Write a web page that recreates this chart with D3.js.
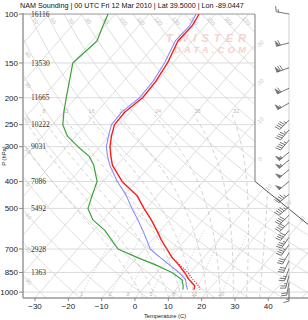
<!DOCTYPE html>
<html>
<head>
<meta charset="utf-8">
<script src="https://cdn.jsdelivr.net/npm/d3@7"></script>
<style>
  body { margin: 0; background: #fff; }
  svg { display: block; }
</style>
</head>
<body>
<svg id="chart" width="308" height="320"></svg>
<script>
// Sounding data (pressure hPa, temps C)
const levels = [100, 110, 125, 150, 175, 200, 225, 250, 275, 300, 325, 350, 400, 450, 500, 550, 600, 650, 700, 750, 800, 850, 900, 950, 980];
const temperature = [-54.9, -53.9, -54.2, -51.6, -50.3, -50.0, -51.6, -51.4, -49.3, -47.0, -44.2, -41.4, -34.3, -26.1, -20.7, -15.5, -11.1, -7.2, -3.2, 0.5, 4.6, 8.2, 11.3, 14.8, 15.5];
const dewpoint = [-82.2, -80.7, -78.5, -80.0, -76.2, -72.9, -69.9, -66.9, -62.5, -56.6, -50.7, -47.0, -41.8, -39.6, -37.5, -33.0, -26.7, -22.1, -17.9, -10.0, -2.2, 4.4, 9.2, 11.3, 12.2];
const wetBulb = [-55.8, -54.7, -55.0, -52.5, -51.1, -50.9, -52.5, -52.3, -50.2, -48.1, -45.2, -42.2, -35.7, -29.3, -24.3, -19.5, -15.3, -11.6, -8.2, -3.1, 1.9, 6.5, 10.3, 12.3, 13.6];
const virtLevels = [750, 800, 850, 900, 950, 980];
const virtTemp = [0.5, 5.0, 9.2, 12.5, 16.0, 17.3];

// Winds
const windP = [100, 127, 156, 185, 209, 241, 261, 284, 314, 335, 363, 400, 445, 494, 529, 561, 600, 636, 675, 722, 771, 823, 872, 923, 967];
const windDir = [280, 255, 250, 245, 240, 225, 220, 220, 230, 230, 230, 230, 230, 230, 225, 225, 220, 215, 215, 210, 205, 200, 195, 190, 180];
const windKt = [15, 60, 70, 60, 55, 45, 45, 45, 55, 55, 50, 50, 45, 45, 40, 40, 40, 35, 35, 30, 30, 25, 25, 20, 15];

// Axis labels
const pTicks = [100, 150, 200, 250, 300, 400, 500, 700, 850, 1000];
const tTicks = [-30, -20, -10, 0, 10, 20, 30, 40];
const heightP = [100, 150, 200, 250, 300, 400, 500, 700, 850];
const heightM = [16116, 13530, 11665, 10222, 9031, 7086, 5492, 2928, 1363];

// Background grid values
const isotherms = d3.range(-130, 60, 10);
const isothermLabels = [-30, -20, -10, 0, 10, 20, 30];
const dryThetas = d3.range(-40, 180, 10);
const moistThetas = [0, 4, 8, 12, 16, 20, 24, 28, 32, 36];
const mixRatios = [1, 2, 3, 5, 8, 12, 20];

const title = "NAM Sounding | 00 UTC Fri 12 Mar 2010 | Lat 39.5000 | Lon -89.0447";

const svg = d3.select("#chart");
const plotLeft = 23, plotTop = 14, plotRight = 255, plotBottom = 298;
const SKEW = 0.87;
const notchSlope = 0.811;

const y = d3.scaleLog().domain([100, 1050]).range([plotTop, plotBottom]);
const x = d3.scaleLinear().domain([-30, 40]).range([35, 268.3]);
const skewX = (t, p) => x(t) + SKEW * (plotBottom - y(p));

// plot outline: notch on right side below 400 hPa
const notchY = y(400);
const outline = [[plotLeft, plotTop], [plotRight, plotTop], [plotRight, notchY],
  [345, notchY + 90 * notchSlope], [345, plotBottom], [plotLeft, plotBottom]];

svg.append("defs").append("clipPath").attr("id", "plotClip")
  .append("path").attr("d", "M" + outline.join("L") + "Z");

const grid = svg.append("g").attr("clip-path", "url(#plotClip)");
const line = d3.line().x(d => skewX(d[1], d[0])).y(d => y(d[0]));

// isobars
grid.selectAll(".isobar").data(pTicks).join("line")
  .attr("x1", plotLeft).attr("x2", 320)
  .attr("y1", d => y(d)).attr("y2", d => y(d))
  .attr("stroke", "#dcdcdc").attr("stroke-width", 1);

// isotherms
grid.selectAll(".isotherm").data(isotherms).join("path")
  .attr("d", t => line([[1050, t], [100, t]]))
  .attr("fill", "none").attr("stroke", "#d6d6d6").attr("stroke-width", 0.8);

// dry adiabats
const pSteps = d3.range(100, 1051, 10);
function dryLine(th) {
  return pSteps.map(p => [p, (th + 273.15) * Math.pow(p / 1000, 0.2857) - 273.15]);
}
grid.selectAll(".dry").data(dryThetas).join("path")
  .attr("d", th => line(dryLine(th)))
  .attr("fill", "none").attr("stroke", "#d6d6d6").attr("stroke-width", 0.8);

// moist adiabats
function moistLine(thw) {
  const Rd = 287.04, Cp = 1005.7, Lv = 2.501e6, eps = 0.622;
  const rate = (T, p) => {
    const es = 6.112 * Math.exp(17.67 * (T - 273.15) / (T - 29.65));
    const rs = eps * es / (p - es);
    return (Rd * T + Lv * rs) / (Cp + (Lv * Lv * rs * eps) / (Rd * T * T)) / p;
  };
  let T = thw + 273.15;
  for (let pp = 1000; pp < 1050; pp += 5) {
    const k1 = rate(T, pp);
    const k2 = rate(T + k1 * 5, pp + 5);
    T += 5 * (k1 + k2) / 2;
  }
  const pts = [];
  let p = 1050;
  const dp = -5;
  while (p >= 230) {
    pts.push([p, T - 273.15]);
    const k1 = rate(T, p);
    const k2 = rate(T + k1 * dp, p + dp);
    T += dp * (k1 + k2) / 2;
    p += dp;
  }
  return pts;
}
const moistData = moistThetas.map(th => ({ th, pts: moistLine(th) }));
grid.selectAll(".moist").data(moistData).join("path")
  .attr("d", d => line(d.pts))
  .attr("fill", "none").attr("stroke", "#bdbdbd").attr("stroke-width", 0.7)
  .attr("stroke-dasharray", "4,3");

// mixing ratio lines
function mixTd(w, p) {
  const e = (w / 1000) * p / (0.622 + w / 1000);
  const l = Math.log(e / 6.112);
  return 243.5 * l / (17.67 - l);
}
function mixLine(w) {
  return d3.range(600, 1051, 10).map(p => [p, mixTd(w, p)]);
}
grid.selectAll(".mix").data(mixRatios).join("path")
  .attr("d", w => line(mixLine(w)))
  .attr("fill", "none").attr("stroke", "#bdbdbd").attr("stroke-width", 0.8)
  .attr("stroke-dasharray", "1,2");

// grid labels
const glabel = svg.append("g").attr("font-family", "Liberation Sans, Arial, sans-serif")
  .attr("font-size", 5.5).attr("fill", "#bcbcbc");

// dry adiabat labels, along top or left edge
dryThetas.forEach(th => {
  const pts = dryLine(th);
  const yTop = plotTop + 7;
  const pTop = y.invert(yTop);
  const tTop = (th + 273.15) * Math.pow(pTop / 1000, 0.2857) - 273.15;
  const xTop = skewX(tTop, pTop);
  let lx, ly;
  if (xTop > plotLeft + 6 && xTop < plotRight - 6) {
    lx = xTop + 3; ly = yTop;
  } else if (xTop <= plotLeft + 6) {
    const hit = pts.find(d => skewX(d[1], d[0]) >= plotLeft + 5);
    if (!hit || y(hit[0]) > plotBottom - 12) return;
    lx = plotLeft + 5; ly = y(hit[0]);
  } else return;
  glabel.append("text").attr("text-anchor", "middle")
    .attr("transform", `translate(${lx},${ly}) rotate(50)`)
    .attr("dy", "0.35em").text(th);
});

// isotherm labels at right border
isothermLabels.forEach(t => {
  let yc = plotBottom - (plotRight - x(t)) / SKEW;
  let xc = plotRight;
  if (yc > notchY) {
    // solve x(t)+SKEW*(plotBottom - yy) = plotRight + (yy - notchY)/notchSlope
    yc = (x(t) + SKEW * plotBottom - plotRight + notchY / notchSlope) / (SKEW + 1 / notchSlope);
    xc = plotRight + (yc - notchY) / notchSlope;
  }
  glabel.append("text").attr("text-anchor", "middle")
    .attr("transform", `translate(${Math.min(xc + 5, 302)},${yc - 1}) rotate(-45)`)
    .attr("dy", "0.35em").text(t);
});

// moist adiabat labels at top end
moistData.forEach(d => {
  const last = d.pts[d.pts.length - 1];
  const lx = skewX(last[1], last[0]);
  if (lx < plotLeft + 2 || lx > plotRight - 4) return;
  glabel.append("text").attr("text-anchor", "middle")
    .attr("x", lx + 4).attr("y", y(last[0]) - 2).text(d.th);
});

// mixing ratio labels at bottom
mixRatios.forEach(w => {
  const pl = y.invert(plotBottom - 3);
  glabel.append("text").attr("text-anchor", "middle")
    .attr("x", skewX(mixTd(w, pl), pl)).attr("y", plotBottom - 2).text(w);
});

// watermark
const wm = svg.append("g").attr("font-family", "Liberation Sans, Arial, sans-serif")
  .attr("font-weight", "bold").attr("font-style", "italic")
  .attr("fill", "#f5d2d2").attr("text-anchor", "middle");
wm.append("text").attr("x", 206).attr("y", 42).attr("font-size", 11).attr("textLength", 80).text("TWISTER");
wm.append("text").attr("x", 210).attr("y", 53).attr("font-size", 9.5).attr("textLength", 72).text("DATA.COM");

// frame
const frame = svg.append("g");
frame.append("line").attr("x1", plotLeft).attr("x2", plotRight).attr("y1", plotTop).attr("y2", plotTop)
  .attr("stroke", "#a0a0a0").attr("stroke-width", 1.2);
frame.append("line").attr("x1", plotRight).attr("x2", plotRight).attr("y1", plotTop).attr("y2", notchY)
  .attr("stroke", "#909090").attr("stroke-width", 1.2);
frame.append("line").attr("x1", plotRight).attr("x2", 345).attr("y1", notchY).attr("y2", notchY + 90 * notchSlope)
  .attr("stroke", "#555").attr("stroke-width", 1);

// wind barb column line
const barbX = 289;
svg.append("line").attr("x1", barbX).attr("x2", barbX).attr("y1", plotTop - 1).attr("y2", plotBottom)
  .attr("stroke", "#d0d0d0").attr("stroke-width", 1);

// axes
const axisG = svg.append("g").attr("font-family", "Liberation Sans, Arial, sans-serif").attr("fill", "#222");
axisG.append("line").attr("x1", plotLeft).attr("x2", plotLeft).attr("y1", plotTop - 1).attr("y2", plotBottom)
  .attr("stroke", "#999").attr("stroke-width", 1.5);
axisG.append("line").attr("x1", plotLeft).attr("x2", 308).attr("y1", plotBottom).attr("y2", plotBottom)
  .attr("stroke", "#999").attr("stroke-width", 1.5);

axisG.selectAll(".ptick").data(pTicks).join("line")
  .attr("x1", plotLeft - 4).attr("x2", plotLeft).attr("y1", d => y(d)).attr("y2", d => y(d))
  .attr("stroke", "#888");
axisG.selectAll(".plab").data(pTicks).join("text")
  .attr("x", plotLeft - 5).attr("y", d => y(d)).attr("dy", "0.35em")
  .attr("text-anchor", "end").attr("font-size", 8).text(d => d);

axisG.selectAll(".ttick").data(tTicks).join("line")
  .attr("x1", d => x(d)).attr("x2", d => x(d)).attr("y1", plotBottom).attr("y2", plotBottom + 3)
  .attr("stroke", "#888");
axisG.selectAll(".tlab").data(tTicks).join("text")
  .attr("x", d => x(d)).attr("y", plotBottom + 11)
  .attr("text-anchor", "middle").attr("font-size", 8)
  .text(d => (d < 0 ? "\u2212" + Math.abs(d) : d));

axisG.append("text").attr("x", 165).attr("y", 318).attr("text-anchor", "middle")
  .attr("font-size", 5.8).text("Temperature (C)");
axisG.append("text").attr("transform", "translate(6,156) rotate(-90)")
  .attr("text-anchor", "middle").attr("font-size", 5.8).text("P (hPa)");

// height labels
svg.append("g").attr("font-family", "Liberation Serif, Times New Roman, serif")
  .attr("font-size", 7.5).attr("fill", "#333")
  .selectAll("text").data(heightP).join("text")
  .attr("x", 31).attr("y", d => y(d)).attr("dy", "0.35em")
  .text((d, i) => heightM[i]);

// title
svg.append("text").attr("x", 132).attr("y", 8).attr("text-anchor", "middle")
  .attr("font-family", "Liberation Sans, Arial, sans-serif").attr("font-size", 7.2)
  .attr("fill", "#111").text(title);

// profiles
const curves = svg.append("g").attr("fill", "none").attr("stroke-linejoin", "round");
const prof = vals => levels.map((p, i) => [p, vals[i]]);
curves.append("path").attr("d", line(prof(dewpoint))).attr("stroke", "#3aa43a").attr("stroke-width", 1.2);
curves.append("path").attr("d", line(prof(wetBulb))).attr("stroke", "#8c8cff").attr("stroke-width", 1.1);
curves.append("path").attr("d", line(virtLevels.map((p, i) => [p, virtTemp[i]])))
  .attr("stroke", "#ff2020").attr("stroke-width", 1.2).attr("stroke-dasharray", "1,1.5");
curves.append("path").attr("d", line(prof(temperature))).attr("stroke", "#ff1a1a").attr("stroke-width", 1.4);

// wind barbs
const barbs = svg.append("g").attr("stroke", "#666").attr("fill", "#777").attr("stroke-width", 0.9);
windP.forEach((p, i) => {
  const by = y(p);
  const rad = windDir[i] * Math.PI / 180;
  const ux = Math.sin(rad), uy = -Math.cos(rad);
  const px = -uy, py = ux;
  const L = 13;
  const tx = barbX + L * ux, ty = by + L * uy;
  barbs.append("line").attr("x1", barbX).attr("y1", by).attr("x2", tx).attr("y2", ty);
  let rem = Math.round(windKt[i] / 5) * 5;
  let pos = 0;
  const at = s => [tx - s * ux, ty - s * uy];
  while (rem >= 50) {
    const a = at(pos), b = at(pos + 3.5);
    const c = [a[0] + 5.5 * px, a[1] + 5.5 * py];
    barbs.append("path").attr("d", "M" + [a, c, b].join("L") + "Z").attr("stroke-width", 0.5);
    pos += 4.2; rem -= 50;
  }
  while (rem >= 10) {
    const a = at(pos);
    barbs.append("line").attr("x1", a[0]).attr("y1", a[1])
      .attr("x2", a[0] + 5.5 * px + 1.5 * ux).attr("y2", a[1] + 5.5 * py + 1.5 * uy);
    pos += 2.3; rem -= 10;
  }
  if (rem >= 5) {
    if (pos === 0) pos = 2.3;
    const a = at(pos);
    barbs.append("line").attr("x1", a[0]).attr("y1", a[1])
      .attr("x2", a[0] + 2.8 * px + 0.8 * ux).attr("y2", a[1] + 2.8 * py + 0.8 * uy);
  }
});
</script>
</body>
</html>
